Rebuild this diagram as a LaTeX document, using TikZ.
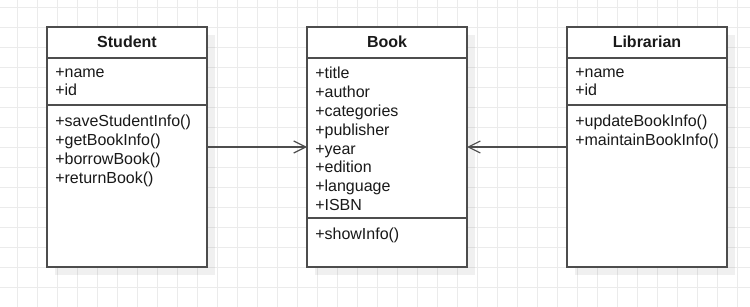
\documentclass[tikz,border=0pt]{standalone}
\usepackage{fontspec}
\setmainfont{Liberation Sans}
\usetikzlibrary{arrows.meta,shadows,positioning}

\definecolor{gridgray}{HTML}{EBEBEB}
\definecolor{linegray}{HTML}{4D4D4D}

\tikzset{
    classbox/.style={draw=linegray,line width=1.1pt,fill=white,inner sep=0pt,outer sep=0pt,
        minimum width=120pt,minimum height=180pt,
        drop shadow={shadow xshift=6pt,shadow yshift=-6pt,fill=black,opacity=.06}},
    classname/.style={font=\fontsize{12}{14.1}\selectfont\bfseries,anchor=base,inner sep=0pt},
    members/.style={align=left,anchor=north west,inner sep=0pt,execute at begin node=\strut},
    divider/.style={draw=linegray,line width=1.1pt},
    assoc/.style={draw=linegray,line width=.9pt,-{Straight Barb[length=9pt,width=9pt]}},
}

\begin{document}
\begin{tikzpicture}[x=0.75pt,y=-0.75pt,font=\fontsize{12}{14.1}\selectfont,text=black!90]
    \useasboundingbox (0,0) rectangle (750,307);
    % background grid
    \foreach \gx in {17,37,...,737}
        \draw[gridgray,line width=.75pt] (\gx,0) -- (\gx,307);
    \foreach \gy in {7,27,...,307}
        \draw[gridgray,line width=.75pt] (0,\gy) -- (750,\gy);

    % the three classes
    \node[classbox] (student) at (127,147) {};
    \node[classbox,right=75pt of student] (book) {};
    \node[classbox,right=75pt of book] (librarian) {};

    \node[classname] (studenttitle) at ([yshift=-15.5pt]student.north) {Student};
    \node[classname] (booktitle) at ([yshift=-15.5pt]book.north) {Book};
    \node[classname] (librariantitle) at ([yshift=-15.5pt]librarian.north) {Librarian};

    % compartment lines
    \draw[divider] ([yshift=-23.25pt]student.north west) -- ([yshift=-23.25pt]student.north east);
    \draw[divider] ([yshift=-58.5pt]student.north west) -- ([yshift=-58.5pt]student.north east);
    \draw[divider] ([yshift=-23.25pt]book.north west) -- ([yshift=-23.25pt]book.north east);
    \draw[divider] ([yshift=-143.25pt]book.north west) -- ([yshift=-143.25pt]book.north east);
    \draw[divider] ([yshift=-23.25pt]librarian.north west) -- ([yshift=-23.25pt]librarian.north east);
    \draw[divider] ([yshift=-58.5pt]librarian.north west) -- ([yshift=-58.5pt]librarian.north east);

    % attributes and operations (first baseline sits one strut below the node top)
    \node[members] (studentattr) at ([xshift=6pt,yshift=-30.4pt]student.north west) {+name\\+id};
    \node[members] (studentops) at ([xshift=6pt,yshift=-66pt]student.north west)
        {+saveStudentInfo()\\+getBookInfo()\\+borrowBook()\\+returnBook()};
    \node[members] (bookattr) at ([xshift=6pt,yshift=-30pt]book.north west)
        {+title\\+author\\+categories\\+publisher\\+year\\+edition\\+language\\+ISBN};
    \node[members] (bookops) at ([xshift=6pt,yshift=-149pt]book.north west) {+showInfo()};
    \node[members] (librarianattr) at ([xshift=6pt,yshift=-30.4pt]librarian.north west) {+name\\+id};
    \node[members] (librarianops) at ([xshift=6pt,yshift=-66pt]librarian.north west)
        {+updateBookInfo()\\+maintainBookInfo()};

    % associations
    \draw[assoc] (student) -- (book);
    \draw[assoc] (librarian) -- (book);
\end{tikzpicture}
\end{document}
